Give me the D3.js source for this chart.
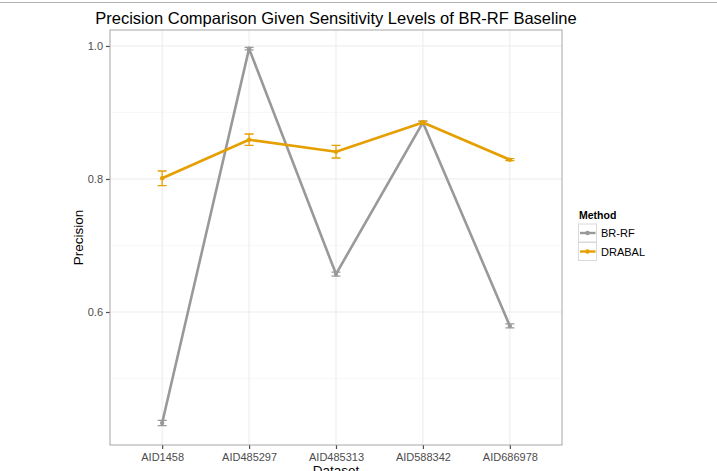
<!DOCTYPE html>
<html>
<head>
<meta charset="utf-8">
<script src="https://cdn.jsdelivr.net/npm/d3@7"></script>
<style>
	body { margin: 0; background: #fff; }
	svg { display: block; font-family: "Liberation Sans", Arial, sans-serif; }
</style>
</head>
<body>
<svg id="chart" width="717" height="471"></svg>
<script>
const datasets = ["AID1458", "AID485297", "AID485313", "AID588342", "AID686978"];
const brrfPrecision = [0.433, 0.996, 0.657, 0.885, 0.579];
const brrfError = [0.004, 0.002, 0.003, 0.002, 0.003];
const drabalPrecision = [0.801, 0.859, 0.841, 0.885, 0.829];
const drabalError = [0.011, 0.0086, 0.0095, 0.002, 0.0015];
const methods = ["BR-RF", "DRABAL"];
const colors = ["#999999", "#E69F00"];
const yTicks = [0.6, 0.8, 1.0];
const yMinor = [0.5, 0.7, 0.9];

const series = [
	{ name: methods[0], color: colors[0], values: brrfPrecision, errs: brrfError },
	{ name: methods[1], color: colors[1], values: drabalPrecision, errs: drabalError }
];

const panel = { left: 110, right: 562, top: 30, bottom: 445 };

const scale = {
	x: d3.scalePoint().domain(datasets).range([panel.left, panel.right]).padding(0.6),
	y: d3.scaleLinear().domain([0.4, 1.024]).range([panel.bottom, panel.top])
};

const $svg = d3.select("#chart");

// frame line at the very top
$svg.append("line")
	.attr("x1", 0).attr("x2", 717).attr("y1", 2.5).attr("y2", 2.5)
	.attr("stroke", "#b0b0b0").attr("stroke-width", 1.2);

// grid
const $grid = $svg.append("g");
$grid.selectAll(".minor").data(yMinor).enter().append("line")
	.attr("x1", panel.left).attr("x2", panel.right)
	.attr("y1", (d) => scale.y(d)).attr("y2", (d) => scale.y(d))
	.attr("stroke", "#f6f6f6").attr("stroke-width", 0.8);
$grid.selectAll(".major").data(yTicks).enter().append("line")
	.attr("x1", panel.left).attr("x2", panel.right)
	.attr("y1", (d) => scale.y(d)).attr("y2", (d) => scale.y(d))
	.attr("stroke", "#ebebeb").attr("stroke-width", 1);
$grid.selectAll(".vmajor").data(datasets).enter().append("line")
	.attr("y1", panel.top).attr("y2", panel.bottom)
	.attr("x1", (d) => scale.x(d)).attr("x2", (d) => scale.x(d))
	.attr("stroke", "#ebebeb").attr("stroke-width", 1);

// axes
const yAxis = d3.axisLeft(scale.y).tickValues(yTicks).tickFormat(d3.format(".1f")).tickSize(4).tickPadding(3);
const $yAxis = $svg.append("g").attr("transform", `translate(${panel.left},0)`).call(yAxis);
const xAxis = d3.axisBottom(scale.x).tickSize(4).tickPadding(4);
const $xAxis = $svg.append("g").attr("transform", `translate(0,${panel.bottom})`).call(xAxis);
[$yAxis, $xAxis].forEach(($a) => {
	$a.select(".domain").remove();
	$a.selectAll(".tick line").attr("stroke", "#4d4d4d").attr("stroke-width", 1.2);
	$a.selectAll(".tick text").attr("fill", "#4d4d4d").attr("font-size", 11).attr("font-family", "Liberation Sans, Arial, sans-serif");
});

// panel border
$svg.append("rect")
	.attr("x", panel.left).attr("y", panel.top)
	.attr("width", panel.right - panel.left).attr("height", panel.bottom - panel.top)
	.attr("fill", "none").attr("stroke", "#a6a6a6").attr("stroke-width", 1);

// lines, error bars, points
const line = d3.line().x((d, i) => scale.x(datasets[i])).y((d) => scale.y(d));
series.forEach((s) => {
	const $g = $svg.append("g");
	$g.append("path").attr("d", line(s.values))
		.attr("fill", "none").attr("stroke", s.color).attr("stroke-width", 2.6)
		.attr("stroke-linejoin", "round");
	const cap = 4.5;
	s.values.forEach((v, i) => {
		const x = scale.x(datasets[i]);
		const y0 = scale.y(v - s.errs[i]);
		const y1 = scale.y(v + s.errs[i]);
		const path = `M${x - cap},${y0}H${x + cap}M${x},${y0}V${y1}M${x - cap},${y1}H${x + cap}`;
		$g.append("path").attr("d", path).attr("fill", "none")
			.attr("stroke", s.color).attr("stroke-width", 1.3);
		$g.append("circle").attr("cx", x).attr("cy", scale.y(v)).attr("r", 2.2).attr("fill", s.color);
	});
});

// title
$svg.append("text").attr("x", (panel.left + panel.right) / 2).attr("y", 24)
	.attr("text-anchor", "middle").attr("font-size", 16.5).attr("fill", "#000")
	.text("Precision Comparison Given Sensitivity Levels of BR-RF Baseline");

// axis titles
$svg.append("text").attr("transform", `translate(83,${(panel.top + panel.bottom) / 2}) rotate(-90)`)
	.attr("text-anchor", "middle").attr("font-size", 13.5).attr("fill", "#000").text("Precision");
$svg.append("text").attr("x", (panel.left + panel.right) / 2).attr("y", 475)
	.attr("text-anchor", "middle").attr("font-size", 13.5).attr("fill", "#000").text("Dataset");

// legend
const $legend = $svg.append("g").attr("transform", "translate(578,0)");
$legend.append("text").attr("x", 1).attr("y", 219).attr("font-size", 10.5)
	.attr("font-weight", "bold").text("Method");
series.forEach((s, i) => {
	const top = 224 + i * 18.5;
	$legend.append("rect").attr("x", 0.5).attr("y", top).attr("width", 18).attr("height", 18)
		.attr("fill", "#fff").attr("stroke", "#d9d9d9").attr("stroke-width", 1);
	$legend.append("line").attr("x1", 2).attr("x2", 17.5).attr("y1", top + 9).attr("y2", top + 9)
		.attr("stroke", s.color).attr("stroke-width", 2.4);
	$legend.append("circle").attr("cx", 9.5).attr("cy", top + 9).attr("r", 2.2).attr("fill", s.color);
	$legend.append("text").attr("x", 23).attr("y", top + 13).attr("font-size", 11).attr("fill", "#000").text(s.name);
});
</script>
</body>
</html>
